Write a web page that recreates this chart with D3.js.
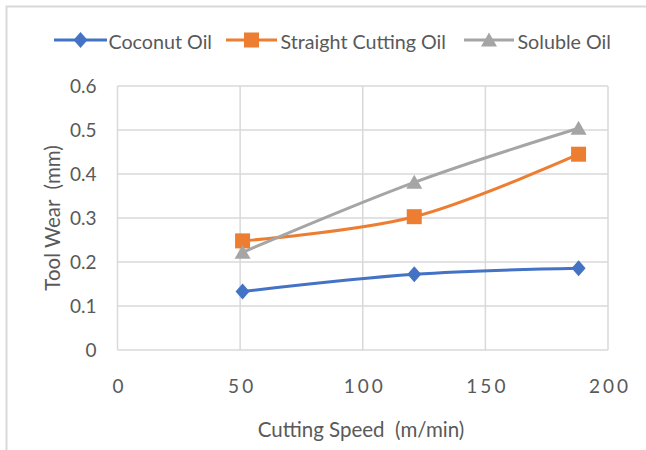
<!DOCTYPE html>
<html>
<head>
<meta charset="utf-8">
<script src="https://cdn.jsdelivr.net/npm/d3@7"></script>
<style>
  html, body { margin: 0; padding: 0; background: #fff; }
  svg { display: block; }
  text { font-family: Lato, "Noto Sans", sans-serif; fill: #595959; }
</style>
</head>
<body>
<svg id="chart" width="646" height="450"></svg>
<script>
// Cutting speed (m/min) at which tool wear was measured
const speeds = [51, 121, 188];

// Tool wear (mm) for each cutting fluid
const coconutOil = [0.133, 0.172, 0.186];
const straightCuttingOil = [0.248, 0.303, 0.445];
const solubleOil = [0.222, 0.381, 0.504];

const seriesNames = ["Coconut Oil", "Straight Cutting Oil", "Soluble Oil"];
const seriesColors = ["#4472C4", "#ED7D31", "#A5A5A5"];
const seriesMarkers = ["diamond", "square", "triangle"];

const xTicks = [0, 50, 100, 150, 200];
const yTicks = [0, 0.1, 0.2, 0.3, 0.4, 0.5, 0.6];

const series = [coconutOil, straightCuttingOil, solubleOil].map((vals, i) => ({
  name: seriesNames[i],
  color: seriesColors[i],
  marker: seriesMarkers[i],
  points: vals.map((v, j) => ({ x: speeds[j], y: v }))
}));

const svg = d3.select("#chart");

// outer chart frame (top and left edges visible)
svg.append("path")
  .attr("d", "M6.5,450 V6.5 H646")
  .attr("fill", "none")
  .attr("stroke", "#d9d9d9")
  .attr("stroke-width", 2);

const plot = { left: 117.5, right: 608, top: 86, bottom: 350 };

const x = d3.scaleLinear().domain([0, 200]).range([plot.left, plot.right]);
const y = d3.scaleLinear().domain([0, 0.6]).range([plot.bottom, plot.top]);

// gridlines
const grid = svg.append("g");
grid.selectAll("line.h").data(yTicks).join("line")
  .attr("x1", plot.left).attr("x2", plot.right)
  .attr("y1", d => y(d)).attr("y2", d => y(d))
  .attr("stroke", "#d9d9d9").attr("stroke-width", 1.5);
grid.selectAll("line.v").data(xTicks).join("line")
  .attr("y1", plot.top).attr("y2", plot.bottom)
  .attr("x1", d => x(d)).attr("x2", d => x(d))
  .attr("stroke", "#d9d9d9").attr("stroke-width", 1.5);

// y axis labels
const yAxis = d3.axisLeft(y).tickValues(yTicks).tickSize(0).tickPadding(21)
  .tickFormat(d => d === 0 ? "0" : d3.format(".1f")(d));
svg.append("g").attr("transform", `translate(${plot.left},0)`).call(yAxis)
  .call(g => g.select(".domain").remove())
  .call(g => g.selectAll("text").attr("font-size", 19).attr("fill", "#595959")
    .style("font-family", "Lato, 'Noto Sans', sans-serif"));

// x axis labels
const xAxis = d3.axisBottom(x).tickValues(xTicks).tickSize(0).tickPadding(30)
  .tickFormat(d3.format("d"));
svg.append("g").attr("transform", `translate(0,${plot.bottom})`).call(xAxis)
  .call(g => g.select(".domain").remove())
  .call(g => g.selectAll("text").attr("font-size", 19).attr("fill", "#595959")
    .attr("letter-spacing", 3)
    .attr("dx", 1.5)
    .style("font-family", "Lato, 'Noto Sans', sans-serif"));

// axis titles
svg.append("text")
  .attr("x", 361).attr("y", 429)
  .attr("text-anchor", "middle").attr("dominant-baseline", "central")
  .attr("font-size", 20.5)
  .text("Cutting Speed\u00a0 (m/min)");

svg.append("text")
  .attr("transform", "translate(52,218) rotate(-90)")
  .attr("text-anchor", "middle").attr("dominant-baseline", "central")
  .attr("font-size", 20.5)
  .text("Tool Wear\u00a0 (mm)");

// marker shapes
function markerPath(type) {
  if (type === "diamond") return "M0,-8 L7,0 L0,8 L-7,0 Z";
  if (type === "square") return "M-7.5,-7.5 H7.5 V7.5 H-7.5 Z";
  return "M0,-7.5 L8,6.5 L-8,6.5 Z";
}

const line = d3.line()
  .x(d => x(d.x)).y(d => y(d.y))
  .curve(d3.curveCardinal.tension(0));

const lines = svg.append("g");
series.forEach(s => {
  lines.append("path")
    .datum(s.points)
    .attr("d", line)
    .attr("fill", "none")
    .attr("stroke", s.color)
    .attr("stroke-width", 3)
    .attr("stroke-linecap", "round");
  lines.selectAll(null).data(s.points).join("path")
    .attr("transform", d => `translate(${x(d.x)},${y(d.y)})`)
    .attr("d", markerPath(s.marker))
    .attr("fill", s.color);
});

// legend
const legendItems = [
  { x0: 54, x1: 107, tx: 108.5 },
  { x0: 226, x1: 277, tx: 280.5 },
  { x0: 464, x1: 514, tx: 517.5 }
];
const legend = svg.append("g");
series.forEach((s, i) => {
  const it = legendItems[i];
  const g = legend.append("g");
  g.append("line")
    .attr("x1", it.x0).attr("x2", it.x1).attr("y1", 40).attr("y2", 40)
    .attr("stroke", s.color).attr("stroke-width", 3);
  g.append("path")
    .attr("transform", `translate(${(it.x0 + it.x1) / 2},40)`)
    .attr("d", markerPath(s.marker))
    .attr("fill", s.color);
  g.append("text")
    .attr("x", it.tx).attr("y", 41)
    .attr("dominant-baseline", "central")
    .attr("font-size", 19.7)
    .text(s.name);
});
</script>
</body>
</html>
